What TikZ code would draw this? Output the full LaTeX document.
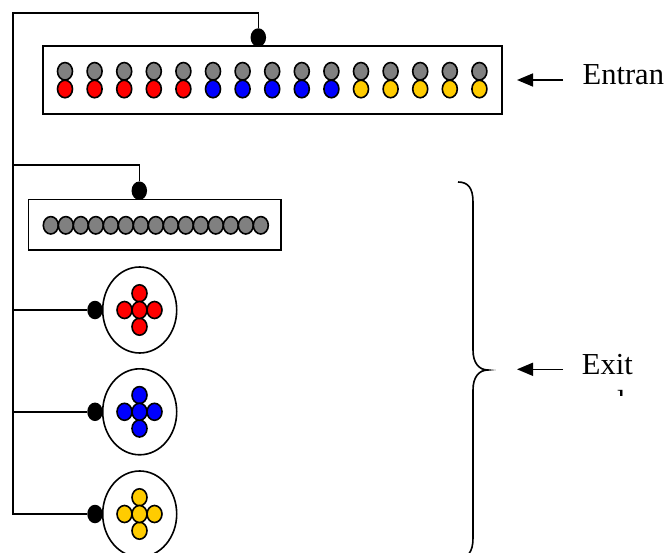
\documentclass[tikz,border=0pt]{standalone}
\usepackage{fontspec}
\setmainfont{Liberation Serif}
\usetikzlibrary{shapes.geometric,arrows.meta}
\definecolor{beadgray}{RGB}{128,128,128}
\definecolor{beadred}{RGB}{255,0,0}
\definecolor{beadblue}{RGB}{0,0,255}
\definecolor{beadyellow}{RGB}{255,204,0}
\tikzset{
  bead/.style={ellipse,draw=black,line width=1.6pt,inner sep=0pt,
    minimum width=15pt,minimum height=17.5pt},
  joint/.style={ellipse,fill=black,inner sep=0pt,
    minimum width=15.5pt,minimum height=18.5pt},
  tray/.style={rectangle,draw=black,line width=1.6pt,inner sep=0pt},
  pod/.style={ellipse,draw=black,line width=1.6pt,inner sep=0pt,
    minimum width=74pt,minimum height=86pt},
  wire/.style={line width=1.6pt},
  pointer/.style={line width=1.6pt,-{Triangle[length=16pt,width=13pt]}},
  caption/.style={anchor=base west,inner sep=0pt,
    font=\fontsize{30.5}{35}\selectfont}
}
\begin{document}
\begin{tikzpicture}[x=1pt,y=-1pt]
\path[use as bounding box] (0,0) rectangle (666,553);
\clip (0,0) rectangle (666,553);

% entrance tray with fifteen bead pairs
\node[tray,minimum width=459pt,minimum height=68pt] (entry) at (272.5,80) {};
\foreach \i in {0,...,14}{
  \pgfmathsetmacro{\bx}{65+29.6*\i}
  \node[bead,fill=beadgray] (top\i) at (\bx,71.3) {};
}
\foreach \i/\c in {0/beadred,1/beadred,2/beadred,3/beadred,4/beadred,
                   5/beadblue,6/beadblue,7/beadblue,8/beadblue,9/beadblue,
                   10/beadyellow,11/beadyellow,12/beadyellow,13/beadyellow,14/beadyellow}{
  \pgfmathsetmacro{\bx}{65+29.6*\i}
  \node[bead,fill=\c] (low\i) at (\bx,89) {};
}

% tray of fifteen gray beads in a row
\node[tray,minimum width=252.4pt,minimum height=50.7pt] (row) at (154.5,224.7) {};
\foreach \i in {0,...,14}{
  \pgfmathsetmacro{\bx}{50.8+15*\i}
  \node[bead,fill=beadgray,minimum height=17.4pt] (rb\i) at (\bx,225.3) {};
}

% three sorted pods, each a cross of five beads
\foreach \k/\cy/\c in {red/310/beadred,blue/411.8/beadblue,yellow/514/beadyellow}{
  \node[pod] (pod\k) at (139.7,\cy) {};
  \node[bead,fill=\c,minimum height=17pt] (\k n) at (139.5,\cy-16.7) {};
  \node[bead,fill=\c,minimum height=17pt] (\k s) at (139.5,\cy+16.7) {};
  \node[bead,fill=\c,minimum height=17pt] (\k w) at (124.5,\cy) {};
  \node[bead,fill=\c,minimum height=17pt] (\k e) at (154.5,\cy) {};
  \node[bead,fill=\c,minimum height=17pt] (\k c) at (139.5,\cy) {};
}

% joints
\node[joint] (jentry) at (258.3,37.5) {};
\node[joint] (jrow) at (139.3,190.7) {};
\node[joint] (jred) at (95,310) {};
\node[joint] (jblue) at (95,411.8) {};
\node[joint] (jyellow) at (95,514) {};

% spine and branches
\coordinate (spinetop) at (13,13);
\coordinate (spinerow) at (13,165);
\coordinate (spinered) at (13,310);
\coordinate (spineblue) at (13,411.8);
\coordinate (spineyellow) at (13,514);
\draw[wire] (jentry.north) |- (spinetop) -- (spineyellow) -- (jyellow.west);
\draw[wire] (jrow.north) |- (spinerow);
\draw[wire] (spinered) -- (jred.west);
\draw[wire] (spineblue) -- (jblue.west);

% brace over the exit stages
\draw[line width=1.6pt] (458,182) .. controls (468,182) and (473,188) .. (473,202)
  -- (473,350) .. controls (473,363) and (479,370) .. (488,370)
  .. controls (479,370) and (473,377) .. (473,390)
  -- (473,538) .. controls (473,552) and (468,558) .. (458,558);

% labels
\node[caption] (lblin) at (582.5,85) {Entran};
\coordinate (inarrow) at (563,80);
\coordinate (intip) at (517,80);
\draw[pointer] (inarrow) -- (intip);
\node[caption] (lblout) at (581.7,374) {Exit};
\coordinate (outarrow) at (563,369.3);
\coordinate (outtip) at (517,369.3);
\draw[pointer] (outarrow) -- (outtip);
\begin{scope}
  \clip (600,380) rectangle (650,395.5);
  \node[caption] (lblout2) at (617,411) {l};
\end{scope}
\end{tikzpicture}
\end{document}
